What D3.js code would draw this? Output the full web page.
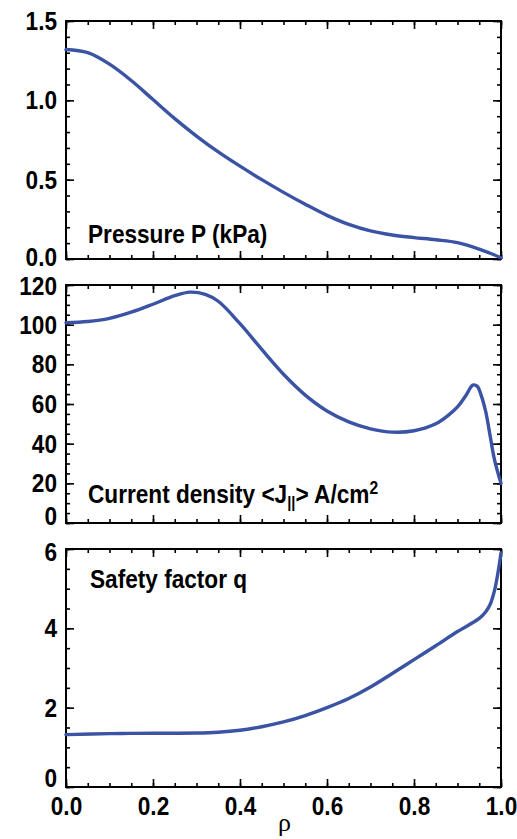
<!DOCTYPE html>
<html>
<head>
<meta charset="utf-8">
<script src="https://cdn.jsdelivr.net/npm/d3@7"></script>
<style>
  html, body { margin: 0; padding: 0; background: #fff; }
  svg { display: block; }
  text { font-family: "Liberation Sans", Arial, Helvetica, sans-serif; font-weight: bold; fill: #000; }
</style>
</head>
<body>
<svg id="chart" width="517" height="839"></svg>
<script>
// Radial coordinate (normalised minor radius)
const rho = [0, 0.05, 0.1, 0.15, 0.2, 0.25, 0.3, 0.35, 0.4, 0.45, 0.5, 0.55, 0.6, 0.65, 0.7, 0.75, 0.8, 0.85, 0.9, 0.95, 0.975, 1.0];

// Pressure profile, kPa
const pressure = [1.32, 1.3, 1.228, 1.125, 1.005, 0.885, 0.775, 0.675, 0.585, 0.5, 0.42, 0.345, 0.275, 0.218, 0.177, 0.151, 0.135, 0.121, 0.103, 0.062, 0.036, 0.008];

// Flux-surface averaged parallel current density, A/cm^2
const rhoJ = [0, 0.05, 0.1, 0.15, 0.2, 0.25, 0.285, 0.32, 0.35, 0.4, 0.45, 0.5, 0.55, 0.6, 0.65, 0.7, 0.75, 0.8, 0.85, 0.88, 0.9, 0.92, 0.935, 0.945, 0.955, 0.965, 0.975, 0.985, 1.0];
const current = [101, 101.6, 103.2, 106.3, 110.3, 114.6, 116.4, 115.3, 111.8, 100.5, 87.5, 75, 64.5, 56.5, 51, 47.5, 45.8, 46.5, 50, 54.5, 58.5, 64.5, 69.5, 69, 64, 56, 44, 32, 20];

// Safety factor q
const rhoQ = [0, 0.1, 0.2, 0.3, 0.35, 0.4, 0.45, 0.5, 0.55, 0.6, 0.65, 0.7, 0.75, 0.8, 0.85, 0.9, 0.95, 0.965, 0.975, 0.985, 0.993, 1.0];
const safety = [1.32, 1.345, 1.355, 1.36, 1.38, 1.43, 1.52, 1.64, 1.8, 2.0, 2.23, 2.52, 2.86, 3.21, 3.56, 3.92, 4.25, 4.42, 4.6, 4.95, 5.4, 5.9];

// Tick labels
const xTicks = [0, 0.2, 0.4, 0.6, 0.8, 1.0];
const pTicks = [0, 0.5, 1.0, 1.5];
const jTicks = [0, 20, 40, 60, 80, 100, 120];
const qTicks = [0, 2, 4, 6];

const svg = d3.select("#chart");
const left = 66, right = 501;
const panelH = 238;
const tops = [21, 285, 549];
const lineColor = "#3a53a4";
const sx = 0.87;  // horizontal condensing of the bold face

const x = d3.scaleLinear().domain([0, 1]).range([left, right]);
const xMinor = d3.range(0, 1.0001, 0.05);

const panels = [
  { xs: rho,  ys: pressure, domain: [0, 1.5], ticks: pTicks, minorStep: 0.1, fmt: d3.format(".1f"), top: tops[0], zeroShift: -2 },
  { xs: rhoJ, ys: current,  domain: [0, 120], ticks: jTicks, minorStep: 5,   fmt: d3.format("d"),   top: tops[1], zeroShift: -7, topShift: 1 },
  { xs: rhoQ, ys: safety,   domain: [0, 6],   ticks: qTicks, minorStep: 0.5, fmt: d3.format("d"),   top: tops[2], zeroShift: -9, topShift: 3 }
];

function styleAxis(g) {
  g.select(".domain").remove();
  g.selectAll(".tick line").attr("stroke", "#000").attr("stroke-width", 1.6);
}

panels.forEach((p, i) => {
  const y = d3.scaleLinear().domain(p.domain).range([p.top + panelH, p.top]);
  const minor = d3.range(p.domain[0], p.domain[1] + p.minorStep / 2, p.minorStep);
  const bottom = p.top + panelH;
  const g = svg.append("g");

  // minor ticks on all four sides
  g.append("g").attr("transform", `translate(${left},0)`)
    .call(d3.axisLeft(y).tickValues(minor).tickSize(-4).tickFormat("")).call(styleAxis);
  g.append("g").attr("transform", `translate(${right},0)`)
    .call(d3.axisRight(y).tickValues(minor).tickSize(-4).tickFormat("")).call(styleAxis);
  g.append("g").attr("transform", `translate(0,${bottom})`)
    .call(d3.axisBottom(x).tickValues(xMinor).tickSize(-4).tickFormat("")).call(styleAxis);
  g.append("g").attr("transform", `translate(0,${p.top})`)
    .call(d3.axisTop(x).tickValues(xMinor).tickSize(-4).tickFormat("")).call(styleAxis);

  // major ticks
  const yl = g.append("g").attr("transform", `translate(${left},0)`)
    .call(d3.axisLeft(y).tickValues(p.ticks).tickSize(-8).tickPadding(9).tickFormat(p.fmt)).call(styleAxis);
  g.append("g").attr("transform", `translate(${right},0)`)
    .call(d3.axisRight(y).tickValues(p.ticks).tickSize(-8).tickFormat("")).call(styleAxis);
  g.append("g").attr("transform", `translate(0,${p.top})`)
    .call(d3.axisTop(x).tickValues(xTicks).tickSize(-8).tickFormat("")).call(styleAxis);
  const xb = g.append("g").attr("transform", `translate(0,${bottom})`)
    .call(d3.axisBottom(x).tickValues(xTicks).tickSize(-8).tickPadding(10)
      .tickFormat(i === 2 ? d3.format(".1f") : "")).call(styleAxis);

  yl.selectAll("text")
    .attr("font-size", 26).attr("font-family", null)
    .attr("x", -9 / sx)
    .attr("transform", d => {
      let dy = 0;
      if (d === 0 && p.zeroShift) dy = p.zeroShift;
      if (d === p.domain[1] && p.topShift) dy = p.topShift;
      return `translate(0,${dy}) scale(${sx},1)`;
    });
  if (i === 2) {
    xb.selectAll("text").attr("font-size", 26).attr("font-family", null)
      .attr("x", 0)
      .attr("transform", `scale(${sx},1)`);
  }

  // frame
  g.append("rect")
    .attr("x", left).attr("y", p.top)
    .attr("width", right - left).attr("height", panelH)
    .attr("fill", "none").attr("stroke", "#000").attr("stroke-width", 2);

  // profile curve
  const line = d3.line()
    .x((d, k) => x(p.xs[k]))
    .y(d => y(d))
    .curve(d3.curveCatmullRom.alpha(0.5));
  g.append("path")
    .datum(p.ys)
    .attr("d", line)
    .attr("fill", "none")
    .attr("stroke", lineColor)
    .attr("stroke-width", 3.4)
    .attr("stroke-linejoin", "round")
    .attr("stroke-linecap", "round");
});

// panel titles
function title(xp, yp) {
  return svg.append("text")
    .attr("transform", `translate(${xp},${yp}) scale(${sx},1)`)
    .attr("font-size", 26);
}
title(88, 243).text("Pressure P (kPa)");

const tJ = title(88, 503);
tJ.append("tspan").text("Current density <J");
tJ.append("tspan").attr("font-size", 17).attr("dy", 5).text("||");
tJ.append("tspan").attr("dy", -5).text("> A/cm");
tJ.append("tspan").attr("font-size", 18).attr("dy", -9).text("2");

title(90, 588).text("Safety factor q");

// x-axis title
svg.append("text")
  .attr("x", (left + right) / 2 + 1).attr("y", 831)
  .attr("text-anchor", "middle")
  .style("font-family", "'Liberation Serif', 'DejaVu Serif', serif")
  .style("font-weight", "normal")
  .attr("font-size", 26)
  .text("ρ");
</script>
</body>
</html>
